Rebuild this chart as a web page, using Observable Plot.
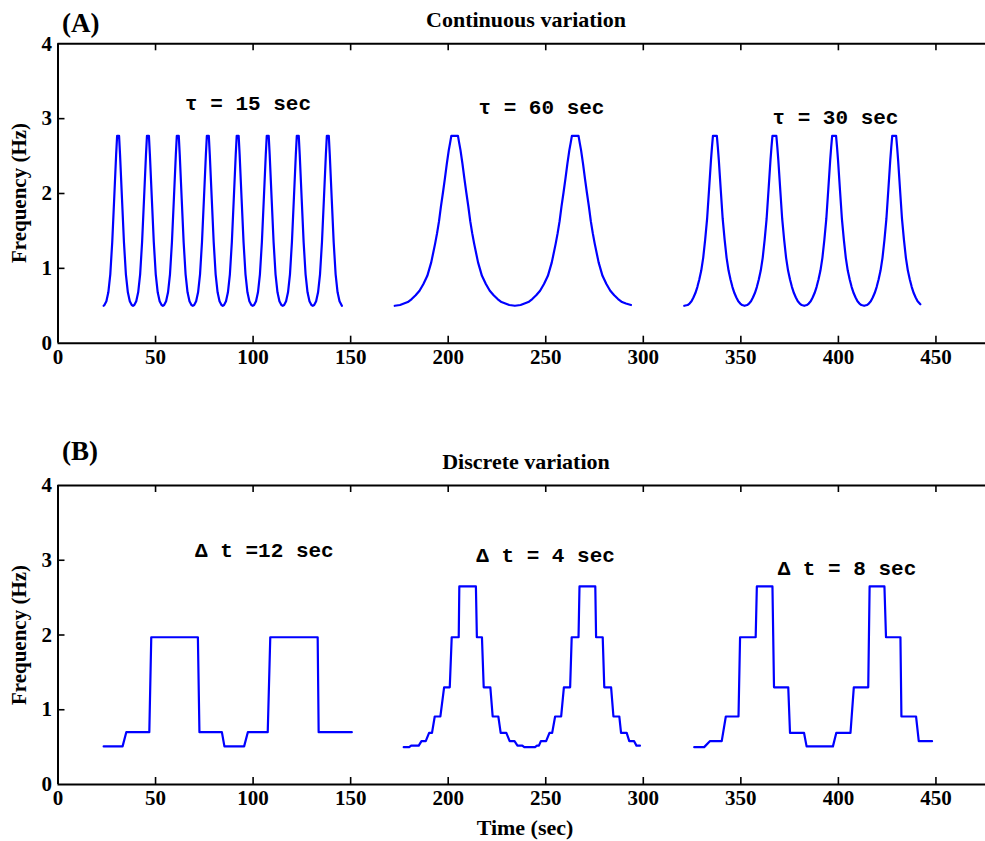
<!DOCTYPE html>
<html><head><meta charset="utf-8">
<script src="https://cdn.jsdelivr.net/npm/d3@7"></script>
<script src="https://cdn.jsdelivr.net/npm/@observablehq/plot@0.6"></script>
<style>
body{margin:0;background:#fff;}
#wrap{position:relative;width:985px;height:841px;overflow:hidden;background:#fff;font-family:"Liberation Serif","Times New Roman",serif;font-weight:bold;color:#000;}
.lbl{position:absolute;white-space:nowrap;line-height:1;}
.c{transform:translate(-50%,-50%);}
.panel{position:absolute;left:0;}
</style></head><body><div id="wrap"></div>
<script>
// ---- axis ticks ----
const xTicks = [0, 50, 100, 150, 200, 250, 300, 350, 400, 450];
const yTicks = [0, 1, 2, 3, 4];

// ---- (A) continuous variation: [time (s), frequency (Hz)] ----
const tau15 = [[23.4,0.50],
[23.8,0.51],[24.8,0.56],[25.8,0.68],[26.8,0.92],[27.8,1.35],[28.8,1.93],[29.8,2.52],[30.3,2.77],[31.3,2.77],[31.8,2.52],[32.8,1.93],[33.8,1.35],[34.8,0.92],[35.8,0.68],[36.8,0.56],[37.8,0.51],[38.45,0.50],
[39.1,0.51],[40.1,0.56],[41.1,0.68],[42.1,0.92],[43.1,1.35],[44.1,1.93],[45.1,2.52],[45.6,2.77],[46.6,2.77],[47.1,2.52],[48.1,1.93],[49.1,1.35],[50.1,0.92],[51.1,0.68],[52.1,0.56],[53.1,0.51],[53.75,0.50],
[54.4,0.51],[55.4,0.56],[56.4,0.68],[57.4,0.92],[58.4,1.35],[59.4,1.93],[60.4,2.52],[60.9,2.77],[61.9,2.77],[62.4,2.52],[63.4,1.93],[64.4,1.35],[65.4,0.92],[66.4,0.68],[67.4,0.56],[68.4,0.51],[69.1,0.50],
[69.8,0.51],[70.8,0.56],[71.8,0.68],[72.8,0.92],[73.8,1.35],[74.8,1.93],[75.8,2.52],[76.3,2.77],[77.3,2.77],[77.8,2.52],[78.8,1.93],[79.8,1.35],[80.8,0.92],[81.8,0.68],[82.8,0.56],[83.8,0.51],[84.45,0.50],
[85.1,0.51],[86.1,0.56],[87.1,0.68],[88.1,0.92],[89.1,1.35],[90.1,1.93],[91.1,2.52],[91.6,2.77],[92.6,2.77],[93.1,2.52],[94.1,1.93],[95.1,1.35],[96.1,0.92],[97.1,0.68],[98.1,0.56],[99.1,0.51],[99.8,0.50],
[100.5,0.51],[101.5,0.56],[102.5,0.68],[103.5,0.92],[104.5,1.35],[105.5,1.93],[106.5,2.52],[107.0,2.77],[108.0,2.77],[108.5,2.52],[109.5,1.93],[110.5,1.35],[111.5,0.92],[112.5,0.68],[113.5,0.56],[114.5,0.51],[115.2,0.50],
[115.9,0.51],[116.9,0.56],[117.9,0.68],[118.9,0.92],[119.9,1.35],[120.9,1.93],[121.9,2.52],[122.4,2.77],[123.4,2.77],[123.9,2.52],[124.9,1.93],[125.9,1.35],[126.9,0.92],[127.9,0.68],[128.9,0.56],[129.9,0.51],[130.6,0.50],
[131.3,0.51],[132.3,0.56],[133.3,0.68],[134.3,0.92],[135.3,1.35],[136.3,1.93],[137.3,2.52],[137.8,2.77],[138.8,2.77],[139.3,2.52],[140.3,1.93],[141.3,1.35],[142.3,0.92],[143.3,0.68],[144.3,0.56],[145.3,0.51],[145.5,0.50]];

const tau60 = [[172.6,0.50],[175.3,0.51],[177.3,0.53],[179.3,0.55],[181.3,0.59],[183.3,0.64],[185.3,0.70],[187.3,0.79],[189.3,0.90],[191.3,1.08],[193.3,1.33],[194.3,1.47],[195.3,1.63],[196.3,1.83],[197.3,2.01],[198.3,2.20],[199.3,2.40],[200.3,2.58],[201.0,2.68],[201.6,2.77],[205.0,2.77],[205.6,2.68],[206.3,2.58],[207.3,2.40],[208.3,2.20],[209.3,2.01],[210.3,1.83],[211.3,1.63],[212.3,1.47],[213.3,1.33],[215.3,1.08],[217.3,0.90],[219.3,0.79],[221.3,0.70],[223.3,0.64],[225.3,0.59],[227.3,0.55],[229.3,0.53],[231.3,0.51],[234.2,0.50],
[237.1,0.51],[239.1,0.53],[241.1,0.55],[243.1,0.59],[245.1,0.64],[247.1,0.70],[249.1,0.79],[251.1,0.90],[253.1,1.08],[255.1,1.33],[256.1,1.47],[257.1,1.63],[258.1,1.83],[259.1,2.01],[260.1,2.20],[261.1,2.40],[262.1,2.58],[262.8,2.68],[263.4,2.77],[266.8,2.77],[267.4,2.68],[268.1,2.58],[269.1,2.40],[270.1,2.20],[271.1,2.01],[272.1,1.83],[273.1,1.63],[274.1,1.47],[275.1,1.33],[277.1,1.08],[279.1,0.90],[281.1,0.79],[283.1,0.70],[285.1,0.64],[287.1,0.59],[289.1,0.55],[291.1,0.53],[293.7,0.51]];

const tau30 = [[321.0,0.50],[322.7,0.51],[323.7,0.53],[324.7,0.56],[325.7,0.61],[326.7,0.67],[327.7,0.75],[328.7,0.85],[329.7,0.97],[330.7,1.14],[331.7,1.38],[332.7,1.66],[333.7,2.05],[334.7,2.45],[335.2,2.62],[335.7,2.77],[337.7,2.77],[338.2,2.62],[338.7,2.45],[339.7,2.05],[340.7,1.66],[341.7,1.38],[342.7,1.14],[343.7,0.97],[344.7,0.85],[345.7,0.75],[346.7,0.67],[347.7,0.61],[348.7,0.56],[349.7,0.53],[350.7,0.51],[351.9,0.50],
[353.2,0.51],[354.2,0.53],[355.2,0.56],[356.2,0.61],[357.2,0.67],[358.2,0.75],[359.2,0.85],[360.2,0.97],[361.2,1.14],[362.2,1.38],[363.2,1.66],[364.2,2.05],[365.2,2.45],[365.7,2.62],[366.2,2.77],[368.2,2.77],[368.7,2.62],[369.2,2.45],[370.2,2.05],[371.2,1.66],[372.2,1.38],[373.2,1.14],[374.2,0.97],[375.2,0.85],[376.2,0.75],[377.2,0.67],[378.2,0.61],[379.2,0.56],[380.2,0.53],[381.2,0.51],[382.5,0.50],
[383.8,0.51],[384.8,0.53],[385.8,0.56],[386.8,0.61],[387.8,0.67],[388.8,0.75],[389.8,0.85],[390.8,0.97],[391.8,1.14],[392.8,1.38],[393.8,1.66],[394.8,2.05],[395.8,2.45],[396.3,2.62],[396.8,2.77],[398.8,2.77],[399.3,2.62],[399.8,2.45],[400.8,2.05],[401.8,1.66],[402.8,1.38],[403.8,1.14],[404.8,0.97],[405.8,0.85],[406.8,0.75],[407.8,0.67],[408.8,0.61],[409.8,0.56],[410.8,0.53],[411.8,0.51],[413.2,0.50],
[414.6,0.51],[415.6,0.53],[416.6,0.56],[417.6,0.61],[418.6,0.67],[419.6,0.75],[420.6,0.85],[421.6,0.97],[422.6,1.14],[423.6,1.38],[424.6,1.66],[425.6,2.05],[426.6,2.45],[427.1,2.62],[427.6,2.77],[429.6,2.77],[430.1,2.62],[430.6,2.45],[431.6,2.05],[432.6,1.66],[433.6,1.38],[434.6,1.14],[435.6,0.97],[436.6,0.85],[437.6,0.75],[438.6,0.67],[439.6,0.61],[440.6,0.56],[442.0,0.52]];

// ---- (B) discrete variation: each level held from start to end (s) ----
const dt12Start = [23.4, 35.0, 47.8, 72.5, 85.3, 97.3, 108.8, 133.6];
const dt12End   = [33.1, 46.8, 71.7, 84.0, 95.4, 107.5, 133.1, 150.6];
const dt12Level = [0.51, 0.70, 1.97, 0.70, 0.51, 0.70, 1.97, 0.70];

const dt4Start = [177.2,181.0,186.3,190.2,193.1,197.9,201.8,205.7,214.7,218.2,222.8,226.9,231.5,235.5,239.0,245.5,247.5,251.9,254.8,259.3,263.3,267.3,275.8,280.0,284.7,288.6,292.8,296.5];
const dt4End   = [180.0,184.9,188.5,191.7,196.0,200.8,205.4,214.2,217.3,221.6,225.7,229.8,234.0,238.0,244.5,246.5,250.2,253.3,257.9,262.5,266.8,275.4,279.2,283.5,287.7,291.5,295.3,298.3];
const dt4Level = [0.50,0.52,0.58,0.69,0.91,1.30,1.97,2.65,1.97,1.30,0.91,0.69,0.58,0.52,0.50,0.52,0.58,0.69,0.91,1.30,1.97,2.65,1.97,1.30,0.91,0.69,0.58,0.52];

const dt8Start = [326.1, 334.1, 342.3, 349.6, 358.2, 367.0, 375.2, 383.7, 398.9, 407.9, 416.0, 424.4, 432.3, 441.2];
const dt8End   = [331.2, 340.2, 348.8, 357.6, 366.2, 374.3, 382.4, 397.2, 406.2, 415.3, 423.6, 431.8, 439.8, 448.0];
const dt8Level = [0.50, 0.58, 0.91, 1.97, 2.65, 1.30, 0.69, 0.51, 0.69, 1.30, 2.65, 1.97, 0.91, 0.58];

// ---- annotations ----
const notesA = [
  {x: 97.4, y: 3.20, label: "τ = 15 sec"},
  {x: 247.8, y: 3.15, label: "τ = 60 sec"},
  {x: 398.5, y: 3.02, label: "τ = 30 sec"}
];
const notesB = [
  {x: 105.8, y: 3.13, label: "Δ t =12 sec"},
  {x: 249.9, y: 3.06, label: "Δ t = 4 sec"},
  {x: 404.4, y: 2.89, label: "Δ t = 8 sec"}
];

function holds(starts, ends, levels) {
  return starts.flatMap((s, i) => [[s, levels[i]], [ends[i], levels[i]]]);
}

const W = 985, ML = 57.5, MR = 0;
function panel(series, notes, top, height, marginTop, marginBottom) {
  const innerH = height - marginTop - marginBottom;
  const innerW = W - ML - MR;
  const axisStyle = {stroke: "black", strokeWidth: 2};
  const svg = Plot.plot({
    width: W, height, marginTop, marginBottom, marginLeft: ML, marginRight: MR,
    x: {domain: [0, 475.4]},
    y: {domain: [0, 4]},
    style: {fontFamily: "'Liberation Serif','Times New Roman',serif", fontWeight: "bold", fontSize: "21px", background: "white", color: "black"},
    marks: [
      ...series.map(s => Plot.line(s, {x: d => d[0], y: d => d[1], stroke: "#0000ff", strokeWidth: 2.2})),
      Plot.text(notes, {x: "x", y: "y", text: "label", fontFamily: "'Liberation Mono','Courier New',monospace", fontWeight: "bold", fontSize: 21, fill: "black"}),
      Plot.tickX(xTicks.slice(1), {x: d => d, insetTop: innerH - 7, stroke: "black", strokeWidth: 1.6}),
      Plot.tickX(xTicks.slice(1), {x: d => d, insetBottom: innerH - 7, stroke: "black", strokeWidth: 1.6}),
      Plot.tickY(yTicks.slice(1, 4), {y: d => d, insetRight: innerW - 7, stroke: "black", strokeWidth: 1.6}),
      Plot.ruleY([0], axisStyle),
      Plot.ruleY([4], axisStyle),
      Plot.ruleX([0], axisStyle),
      Plot.axisX({ticks: xTicks, tickSize: 0, tickPadding: 6, label: null, tickFormat: d => String(d)}),
      Plot.axisY({ticks: yTicks, tickSize: 0, tickPadding: 6, label: null, tickFormat: d => String(d)})
    ]
  });
  svg.classList.add("panel");
  svg.style.top = top + "px";
  return svg;
}

const wrap = document.getElementById("wrap");
wrap.appendChild(panel([tau15, tau60, tau30], notesA, 0, 400, 43.3, 57.3));
wrap.appendChild(panel([holds(dt12Start, dt12End, dt12Level), holds(dt4Start, dt4End, dt4Level), holds(dt8Start, dt8End, dt8Level)], notesB, 441, 400, 44, 57));

function label(text, x, y, size, cls, extra) {
  const d = document.createElement("div");
  d.className = "lbl " + (cls || "");
  d.textContent = text;
  d.style.left = x + "px";
  d.style.top = y + "px";
  d.style.fontSize = size + "px";
  if (extra) d.style.transform = extra;
  wrap.appendChild(d);
}
label("(A)", 62, 10, 27);
label("Continuous variation", 526, 20, 22, "c");
label("(B)", 62, 438, 27);
label("Discrete variation", 526, 462, 22, "c");
label("Time (sec)", 525, 828, 22, "c");
label("Frequency (Hz)", 19, 193, 21, "", "translate(-50%,-50%) rotate(-90deg)");
label("Frequency (Hz)", 19, 635, 21, "", "translate(-50%,-50%) rotate(-90deg)");
</script></body></html>
